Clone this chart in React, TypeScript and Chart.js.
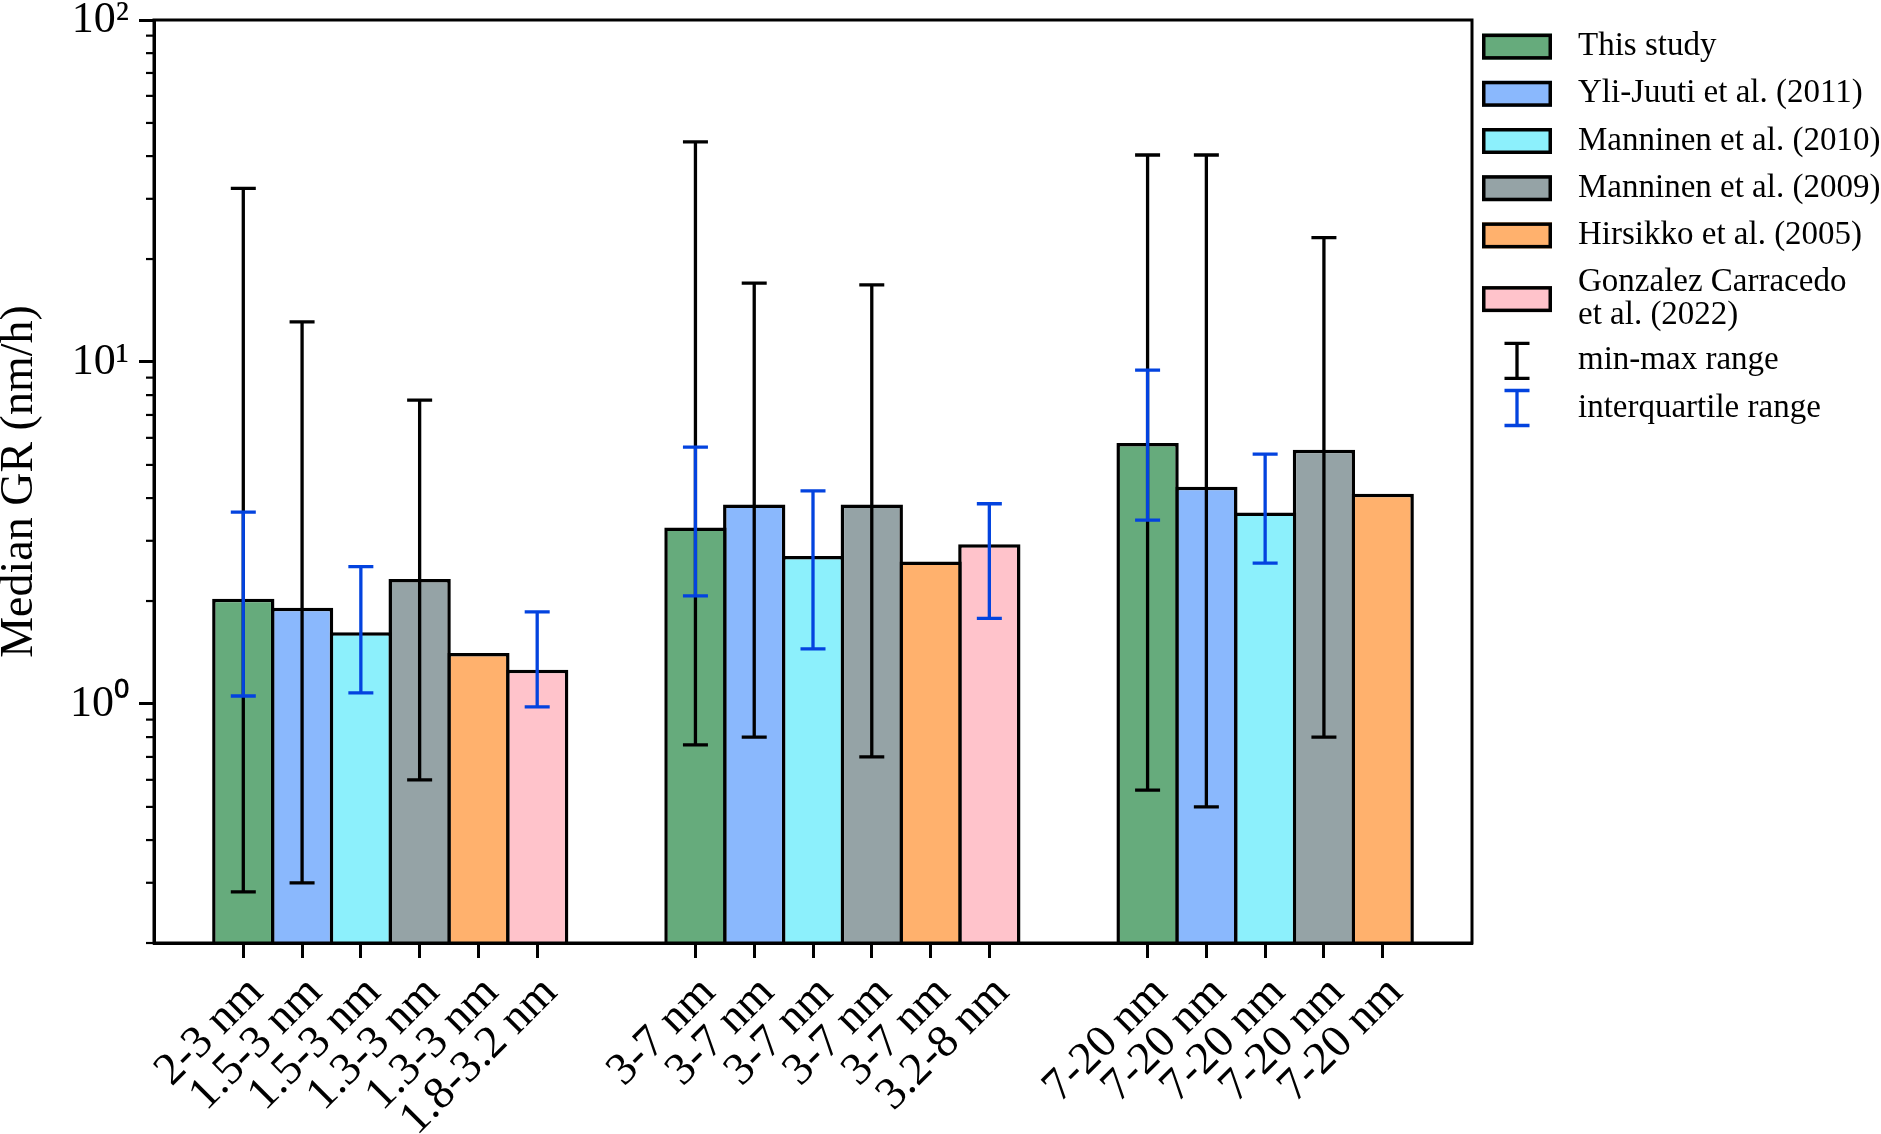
import React, { useEffect, useRef } from 'react';
import { Chart, registerables } from 'chart.js';

Chart.register(...registerables);

// ---------------- data ----------------
const studies = [
  'This study',
  'Yli-Juuti et al. (2011)',
  'Manninen et al. (2010)',
  'Manninen et al. (2009)',
  'Hirsikko et al. (2005)',
  'Gonzalez Carracedo et al. (2022)',
];
const legendLabels: string[][] = [
  ['This study'],
  ['Yli-Juuti et al. (2011)'],
  ['Manninen et al. (2010)'],
  ['Manninen et al. (2009)'],
  ['Hirsikko et al. (2005)'],
  ['Gonzalez Carracedo', 'et al. (2022)'],
];
const errorLegendLabels = ['min-max range', 'interquartile range'];
const barColors = ['#66ab7c', '#8ab8fd', '#8cf0fc', '#95a3a6', '#ffb16d', '#ffc3cb'];
const minMaxColor = '#000000';
const iqrColor = '#0343df';

// size-range labels for each study in each of the 3 groups
const sizeLabels: (string | null)[][] = [
  ['2-3 nm', '3-7 nm', '7-20 nm'],
  ['1.5-3 nm', '3-7 nm', '7-20 nm'],
  ['1.5-3 nm', '3-7 nm', '7-20 nm'],
  ['1.3-3 nm', '3-7 nm', '7-20 nm'],
  ['1.3-3 nm', '3-7 nm', '7-20 nm'],
  ['1.8-3.2 nm', '3.2-8 nm', null],
];
const medianGR: (number | null)[][] = [
  [2.03, 3.28, 5.8],
  [1.91, 3.83, 4.32],
  [1.62, 2.71, 3.63],
  [2.32, 3.83, 5.54],
  [1.41, 2.61, 4.12],
  [1.26, 2.93, null],
];
const minGR: (number | null)[][] = [
  [0.282, 0.759, 0.56],
  [0.3, 0.8, 0.5],
  [null, null, null],
  [0.6, 0.7, 0.8],
  [null, null, null],
  [null, null, null],
];
const maxGR: (number | null)[][] = [
  [32.2, 44.0, 40.3],
  [13.1, 17.0, 40.3],
  [null, null, null],
  [7.74, 16.8, 23.1],
  [null, null, null],
  [null, null, null],
];
const q1GR: (number | null)[][] = [
  [1.055, 2.07, 3.45],
  [null, null, null],
  [1.077, 1.45, 2.58],
  [null, null, null],
  [null, null, null],
  [0.98, 1.78, null],
];
const q3GR: (number | null)[][] = [
  [3.64, 5.64, 9.47],
  [null, null, null],
  [2.52, 4.2, 5.38],
  [null, null, null],
  [null, null, null],
  [1.86, 3.85, null],
];
const yMajorTicks = [1, 10, 100];
const yMajorLabels = ['10\u2070', '10\u00b9', '10\u00b2'];
const yMinorTicks = [0.2, 0.3, 0.4, 0.5, 0.6, 0.7, 0.8, 0.9, 2, 3, 4, 5, 6, 7, 8, 9, 20, 30, 40, 50, 60, 70, 80, 90];
const yAxisTitle = 'Median GR (nm/h)';

// ---------------- layout helpers ----------------
const BAR_STEP = 0.13;
const barX = (g: number, s: number) => g + (s - 2.5) * BAR_STEP;
const FONT = '"Liberation Serif", "Times New Roman", serif';

const xTicks: { value: number; label: string }[] = [];
studies.forEach((_, s) => {
  sizeLabels[s].forEach((lab, g) => {
    if (lab !== null && medianGR[s][g] !== null) xTicks.push({ value: barX(g, s), label: lab });
  });
});
xTicks.sort((a, b) => a.value - b.value);

const errorBarPlugin = {
  id: 'errorBars',
  afterDatasetsDraw(chart: any) {
    const { ctx, scales } = chart;
    const x = scales.x;
    const y = scales.y;
    const cap = 12.5;
    const drawBar = (xv: number, lo: number, hi: number, color: string) => {
      const px = x.getPixelForValue(xv);
      const pLo = y.getPixelForValue(lo);
      const pHi = y.getPixelForValue(hi);
      ctx.strokeStyle = color;
      ctx.lineWidth = 3.3;
      ctx.lineCap = 'butt';
      ctx.beginPath();
      ctx.moveTo(px, pLo);
      ctx.lineTo(px, pHi);
      ctx.moveTo(px - cap, pLo);
      ctx.lineTo(px + cap, pLo);
      ctx.moveTo(px - cap, pHi);
      ctx.lineTo(px + cap, pHi);
      ctx.stroke();
    };
    ctx.save();
    studies.forEach((_, s) => {
      [0, 1, 2].forEach((g) => {
        const lo = minGR[s][g];
        const hi = maxGR[s][g];
        if (lo !== null && hi !== null) drawBar(barX(g, s), lo, hi, minMaxColor);
      });
    });
    studies.forEach((_, s) => {
      [0, 1, 2].forEach((g) => {
        const lo = q1GR[s][g];
        const hi = q3GR[s][g];
        if (lo !== null && hi !== null) drawBar(barX(g, s), lo, hi, iqrColor);
      });
    });
    ctx.restore();
  },
};

const framePlugin = {
  id: 'frameAndExtras',
  afterDraw(chart: any) {
    const { ctx, chartArea, scales } = chart;
    const y = scales.y;
    ctx.save();
    // minor ticks on y
    ctx.strokeStyle = '#000';
    ctx.lineWidth = 2.2;
    yMinorTicks.forEach((v) => {
      const py = y.getPixelForValue(v);
      ctx.beginPath();
      ctx.moveTo(chartArea.left - 8, py);
      ctx.lineTo(chartArea.left, py);
      ctx.stroke();
    });
    // frame
    ctx.lineWidth = 3;
    ctx.strokeRect(chartArea.left, chartArea.top, chartArea.right - chartArea.left, chartArea.bottom - chartArea.top);

    // legend
    const patchX = chartArea.right + 10;
    const patchW = 70;
    const patchH = 26;
    const textX = chartArea.right + 106;
    const lineH = 33;
    const rowH = 47.2;
    ctx.font = `33px ${FONT}`;
    ctx.textBaseline = 'middle';
    ctx.textAlign = 'left';
    let cursor = chartArea.top + 3;
    legendLabels.forEach((lines, i) => {
      const h = rowH + (lines.length - 1) * lineH;
      const cy = cursor + h / 2;
      ctx.fillStyle = barColors[i];
      ctx.fillRect(patchX, cy - patchH / 2, patchW, patchH);
      ctx.strokeStyle = '#000';
      ctx.lineWidth = 3.5;
      ctx.strokeRect(patchX + 1.75, cy - patchH / 2 + 1.75, patchW - 3.5, patchH - 3.5);
      ctx.fillStyle = '#000';
      lines.forEach((t, k) => {
        ctx.fillText(t, textX, cy + (k - (lines.length - 1) / 2) * lineH);
      });
      cursor += h;
    });
    cursor -= 2;
    [minMaxColor, iqrColor].forEach((col, i) => {
      const cy = cursor + rowH / 2;
      const cx = patchX + patchW / 2;
      ctx.strokeStyle = col;
      ctx.lineWidth = 3.3;
      ctx.beginPath();
      ctx.moveTo(cx, cy - 17.5);
      ctx.lineTo(cx, cy + 17.5);
      ctx.moveTo(cx - 12.5, cy - 17.5);
      ctx.lineTo(cx + 12.5, cy - 17.5);
      ctx.moveTo(cx - 12.5, cy + 17.5);
      ctx.lineTo(cx + 12.5, cy + 17.5);
      ctx.stroke();
      ctx.fillStyle = '#000';
      ctx.fillText(errorLegendLabels[i], textX, cy);
      cursor += rowH;
    });
    ctx.restore();
  },
};

export default function App() {
  const canvasRef = useRef<HTMLCanvasElement | null>(null);

  useEffect(() => {
    document.body.style.margin = '0';
    const canvas = canvasRef.current;
    if (!canvas) return;

    const datasets = studies.map((name, s) => ({
      label: name,
      data: medianGR[s]
        .map((v, g) => (v === null ? null : { x: barX(g, s), y: v }))
        .filter((p) => p !== null) as { x: number; y: number }[],
      backgroundColor: barColors[s],
      borderColor: '#000',
      borderWidth: 3.5,
      borderSkipped: 'start' as const,
      grouped: false,
      barPercentage: 1.06,
      categoryPercentage: 1,
    }));

    const chart = new Chart(canvas, {
      type: 'bar',
      data: { datasets },
      options: {
        responsive: false,
        animation: false,
        devicePixelRatio: 1,
        layout: { padding: { left: 0, top: 20, right: 409, bottom: 0 } },
        plugins: { legend: { display: false }, tooltip: { enabled: false } },
        scales: {
          x: {
            type: 'linear',
            min: -0.5225,
            max: 2.3925,
            bounds: 'data',
            offset: false,
            afterBuildTicks: (scale: any) => {
              scale.ticks = xTicks.map((t) => ({ value: t.value }));
            },
            afterFit: (scale: any) => {
              scale.height = 191;
              scale.paddingLeft = 0;
              scale.paddingRight = 0;
            },
            ticks: {
              autoSkip: false,
              minRotation: 45,
              maxRotation: 45,
              padding: 8,
              labelOffset: 13,
              color: '#000',
              font: { family: FONT, size: 46 },
              callback: (_v: any, i: number) => xTicks[i]?.label ?? '',
            },
            grid: {
              offset: false,
              drawOnChartArea: false,
              drawTicks: true,
              tickLength: 15,
              tickWidth: 3,
              tickColor: '#000',
            },
            border: { display: true, color: '#000', width: 3 },
          },
          y: {
            type: 'logarithmic',
            min: 0.2,
            max: 100,
            bounds: 'data',
            afterBuildTicks: (scale: any) => {
              scale.ticks = yMajorTicks.map((v) => ({ value: v, major: true }));
            },
            afterFit: (scale: any) => {
              scale.width = 154;
              scale.paddingTop = 0;
              scale.paddingBottom = 0;
            },
            ticks: {
              padding: 10,
              color: '#000',
              font: { family: FONT, size: 44 },
              callback: (v: any) => {
                const i = yMajorTicks.indexOf(Number(v));
                return i >= 0 ? yMajorLabels[i] : '';
              },
            },
            grid: {
              drawOnChartArea: false,
              drawTicks: true,
              tickLength: 15,
              tickWidth: 3,
              tickColor: '#000',
            },
            border: { display: true, color: '#000', width: 3 },
            title: {
              display: true,
              text: yAxisTitle,
              color: '#000',
              font: { family: FONT, size: 46, lineHeight: 0.85 },
              padding: 0,
            },
          },
        },
      },
      plugins: [errorBarPlugin, framePlugin],
    } as any);

    return () => chart.destroy();
  }, []);

  return (
    <div style={{ width: 1881, height: 1134, background: '#fff' }}>
      <canvas ref={canvasRef} width={1881} height={1134} style={{ display: 'block' }} />
    </div>
  );
}
